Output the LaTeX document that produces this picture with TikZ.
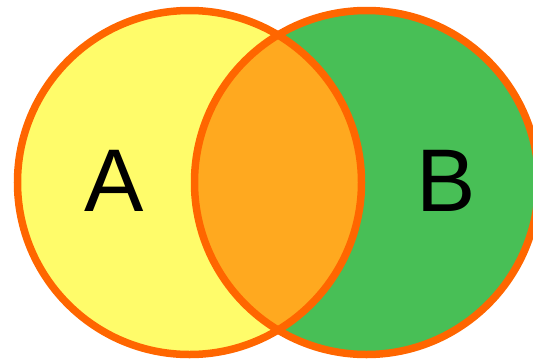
\documentclass[tikz,border=0pt]{standalone}
\usepackage{fontspec}
\setmainfont{Liberation Sans}
\definecolor{cyel}{HTML}{FFFC6A}
\definecolor{cgrn}{HTML}{48BF56}
\definecolor{corg}{HTML}{FFA91F}
\definecolor{cstr}{HTML}{FF6600}
\tikzset{ring/.style={draw=cstr,line width=7.5pt},
  lbl/.style={font=\fontsize{89}{89}\selectfont,text=black,inner sep=0pt}}
\begin{document}
\begin{tikzpicture}[x=1pt,y=-1pt]
\useasboundingbox (0,0) rectangle (533,360);
\coordinate (ca) at (189.5,182.5);
\coordinate (cb) at (366.5,182.5);
\begin{scope}
\clip (0,0) rectangle (533,360);
\fill[cyel] (ca) circle[radius=172];
\fill[cgrn] (cb) circle[radius=172];
\begin{scope}
\clip (ca) circle[radius=172];
\fill[corg] (cb) circle[radius=172];
\end{scope}
\draw[ring] (ca) circle[radius=172];
\draw[ring] (cb) circle[radius=172];
\end{scope}
\node[lbl] (A) at (114,181) {A};
\node[lbl] (B) at (446,181) {B};
\end{tikzpicture}
\end{document}
